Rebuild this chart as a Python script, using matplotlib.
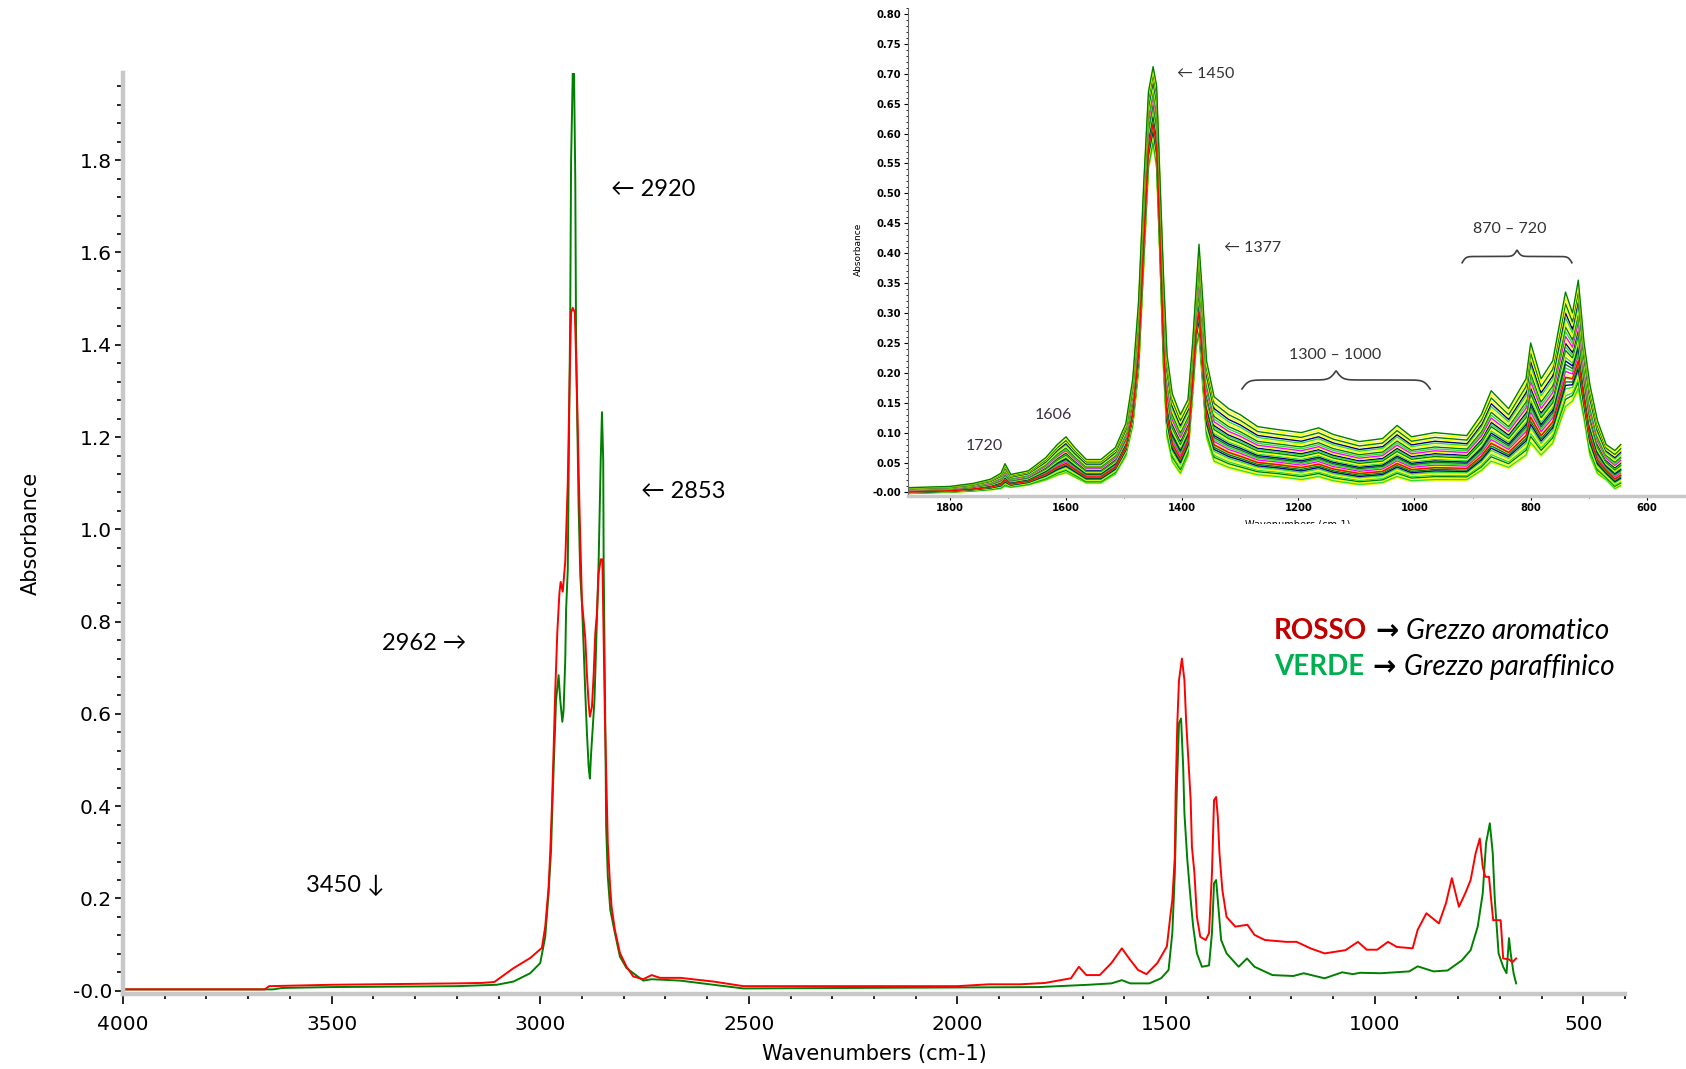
import matplotlib
matplotlib.use('Agg')
import matplotlib.pyplot as plt
import numpy as np
from matplotlib.ticker import MultipleLocator, FixedLocator, FuncFormatter
from matplotlib.transforms import Bbox

plt.rcParams['font.family'] = ['DejaVu Sans']

# --- main FTIR spectra (wavenumber cm-1, absorbance) ---
rosso_wn = [4000, 3660, 3650, 3500, 3200, 3140, 3110, 3064, 3024, 2996, 2988, 2980,
            2976, 2972, 2968, 2964, 2959, 2954, 2951, 2946, 2940, 2934, 2930, 2926,
            2922, 2917, 2912, 2906, 2900, 2892, 2888, 2884, 2881, 2876, 2872, 2868,
            2864, 2860, 2855, 2851, 2848, 2845, 2841, 2838, 2833, 2829, 2821, 2809,
            2793, 2777, 2753, 2733, 2713, 2664, 2585, 2513, 2000, 1925, 1850, 1790,
            1728, 1709, 1691, 1659, 1631, 1606, 1586, 1567, 1547, 1521, 1498, 1490,
            1485, 1479, 1477, 1473, 1469, 1462, 1456, 1452, 1446, 1441, 1438, 1432,
            1426, 1418, 1405, 1397, 1390, 1385, 1380, 1376, 1372, 1365, 1355, 1334,
            1305, 1288, 1263, 1212, 1187, 1154, 1120, 1070, 1040, 1019, 994, 968,
            947, 909, 897, 876, 846, 829, 815, 798, 783, 770, 758, 748, 741, 735,
            726, 716, 698, 692, 678, 670, 661]
rosso_abs = [0.003, 0.003, 0.010, 0.013, 0.016, 0.017, 0.019, 0.049, 0.071, 0.093, 0.139, 0.223,
             0.300, 0.400, 0.520, 0.650, 0.778, 0.862, 0.886, 0.865, 0.930, 1.100, 1.300, 1.470,
             1.480, 1.470, 1.300, 1.050, 0.843, 0.764, 0.684, 0.623, 0.594, 0.616, 0.684, 0.775,
             0.818, 0.904, 0.935, 0.935, 0.760, 0.594, 0.442, 0.320, 0.234, 0.182, 0.132, 0.082,
             0.052, 0.031, 0.025, 0.034, 0.028, 0.028, 0.020, 0.010, 0.010, 0.014, 0.014, 0.017,
             0.027, 0.052, 0.034, 0.034, 0.060, 0.092, 0.067, 0.045, 0.036, 0.060, 0.096, 0.160,
             0.197, 0.290, 0.428, 0.580, 0.673, 0.720, 0.673, 0.587, 0.493, 0.413, 0.312, 0.255,
             0.160, 0.117, 0.110, 0.125, 0.255, 0.413, 0.420, 0.377, 0.298, 0.218, 0.160, 0.139,
             0.143, 0.121, 0.110, 0.106, 0.106, 0.092, 0.081, 0.088, 0.106, 0.089, 0.089, 0.106,
             0.095, 0.092, 0.132, 0.168, 0.146, 0.190, 0.244, 0.182, 0.211, 0.240, 0.298, 0.330, 0.269, 0.247,
             0.247, 0.153, 0.153, 0.070, 0.068, 0.062, 0.070]

verde_wn = [4000, 3640, 3620, 3500, 3200, 3104, 3064, 3024, 3000, 2988, 2980, 2974,
            2971, 2966, 2962, 2956, 2952, 2947, 2944, 2940, 2938, 2934, 2931, 2928,
            2926, 2922, 2919, 2916, 2914, 2908, 2904, 2900, 2896, 2892, 2888, 2884,
            2881, 2878, 2874, 2870, 2867, 2864, 2860, 2855, 2852, 2849, 2848, 2844,
            2842, 2838, 2832, 2821, 2809, 2793, 2753, 2733, 2664, 2585, 2513, 1806,
            1686, 1631, 1606, 1586, 1540, 1512, 1494, 1485, 1479, 1474, 1469, 1464,
            1459, 1456, 1449, 1441, 1435, 1426, 1414, 1397, 1390, 1385, 1380, 1376,
            1368, 1355, 1326, 1306, 1288, 1245, 1195, 1170, 1120, 1078, 1052, 1035,
            985, 917, 897, 859, 825, 791, 770, 753, 741, 733, 724, 717, 712, 703,
            692, 684, 678, 674, 667, 661]
verde_abs = [0.003, 0.003, 0.006, 0.008, 0.010, 0.013, 0.020, 0.038, 0.060, 0.117, 0.212, 0.305,
             0.399, 0.529, 0.630, 0.684, 0.630, 0.583, 0.608, 0.717, 0.825, 0.912, 1.200, 1.480,
             1.800, 1.990, 1.990, 1.760, 1.400, 1.050, 0.900, 0.840, 0.746, 0.645, 0.558, 0.486,
             0.460, 0.515, 0.572, 0.630, 0.717, 0.810, 0.930, 1.150, 1.254, 1.150, 0.930, 0.572,
             0.356, 0.247, 0.175, 0.125, 0.074, 0.049, 0.022, 0.025, 0.022, 0.013, 0.005, 0.008,
             0.013, 0.016, 0.023, 0.016, 0.016, 0.027, 0.045, 0.125, 0.255, 0.442, 0.580, 0.590,
             0.486, 0.385, 0.283, 0.197, 0.139, 0.081, 0.052, 0.055, 0.125, 0.233, 0.240, 0.197,
             0.110, 0.081, 0.052, 0.070, 0.052, 0.034, 0.032, 0.038, 0.027, 0.040, 0.036, 0.039,
             0.038, 0.042, 0.053, 0.042, 0.044, 0.066, 0.088, 0.139, 0.211, 0.320, 0.363, 0.298, 0.197, 0.081,
             0.052, 0.038, 0.114, 0.081, 0.038, 0.016]

# --- inset: family of crude-oil spectra, 1870-645 cm-1 ---
inset_wn = [1870, 1800, 1760, 1730, 1712, 1705, 1695, 1665, 1635, 1615, 1600, 1585,
            1565, 1540, 1515, 1497, 1485, 1475, 1466, 1458, 1450, 1444, 1438, 1432,
            1426, 1417, 1403, 1390, 1382, 1376, 1371, 1365, 1358, 1345, 1320, 1300,
            1270, 1235, 1195, 1165, 1140, 1095, 1055, 1030, 1005, 965, 910, 885,
            868, 838, 808, 800, 782, 762, 740, 728, 718, 708, 698, 685, 670, 655, 645]
inset_hi = [0.008, 0.010, 0.015, 0.022, 0.032, 0.048, 0.030, 0.036, 0.058, 0.080, 0.093, 0.075,
            0.055, 0.055, 0.075, 0.115, 0.190, 0.320, 0.520, 0.670, 0.712, 0.680, 0.520, 0.360,
            0.230, 0.165, 0.130, 0.155, 0.250, 0.340, 0.415, 0.330, 0.220, 0.160, 0.140, 0.130,
            0.110, 0.105, 0.100, 0.108, 0.097, 0.085, 0.090, 0.112, 0.093, 0.100, 0.095, 0.130,
            0.170, 0.140, 0.190, 0.250, 0.190, 0.220, 0.335, 0.300, 0.355, 0.250, 0.180, 0.120,
            0.080, 0.070, 0.080]
inset_lo = [-0.002, 0.000, 0.002, 0.004, 0.006, 0.010, 0.008, 0.012, 0.020, 0.028, 0.032, 0.025,
            0.015, 0.015, 0.030, 0.060, 0.110, 0.200, 0.380, 0.540, 0.580, 0.540, 0.380, 0.200,
            0.090, 0.050, 0.030, 0.060, 0.160, 0.240, 0.260, 0.180, 0.090, 0.050, 0.040, 0.035,
            0.028, 0.025, 0.020, 0.025, 0.018, 0.012, 0.015, 0.025, 0.018, 0.020, 0.020, 0.035,
            0.050, 0.040, 0.060, 0.080, 0.060, 0.080, 0.140, 0.150, 0.170, 0.120, 0.060, 0.030,
            0.020, 0.005, 0.010]
# position of each sample between the lowest (0) and highest (1) spectrum
inset_weight = [0.00, 0.05, 0.02, 0.08, 0.11, 0.14, 0.17, 0.20, 0.23, 0.26, 0.29, 0.32,
                0.35, 0.38, 0.41, 0.44, 0.47, 0.50, 0.53, 0.56, 0.59, 0.62, 0.66, 0.70,
                0.74, 0.78, 0.82, 0.86, 0.90, 0.95, 1.00, 0.27]
inset_color = ['#ffff00', '#ffff00', '#33dd33', '#008000', '#33dd33', '#ffff00', '#33dd33', '#000080',
               '#008000', '#33dd33', '#ffff00', '#ff00ff', '#33dd33', '#008000', '#000080', '#33dd33',
               '#ffff00', '#008000', '#33dd33', '#000080', '#ffff00', '#ff00ff', '#33dd33', '#008000',
               '#ffff00', '#33dd33', '#000080', '#ffff00', '#008000', '#ffff00', '#008000', '#ff0000']

W, H = 1686, 1069
fig = plt.figure(figsize=(W / 100, H / 100), dpi=100)


def px_rect(x0, y0, x1, y1):
    # pixel box (origin top-left) -> figure fraction rect
    return [x0 / W, 1 - y1 / H, (x1 - x0) / W, (y1 - y0) / H]


def fx(x):
    return x / W


def fy(y):
    return 1 - y / H


# ---------------- main spectrum ----------------
ax = fig.add_axes(px_rect(123, 73, 1625, 994))
ax.plot(verde_wn, verde_abs, color='#008000', lw=1.4)
ax.plot(rosso_wn, rosso_abs, color='#ff0000', lw=1.4)
ax.set_xlim(4000, 400)
ax.set_ylim(-0.007, 1.989)

for side in ('top', 'right'):
    ax.spines[side].set_visible(False)
for side in ('left', 'bottom'):
    ax.spines[side].set_color('#c8c8c8')
    ax.spines[side].set_linewidth(3.2)

ax.xaxis.set_major_locator(MultipleLocator(500))
ax.xaxis.set_minor_locator(MultipleLocator(100))
ax.yaxis.set_major_locator(FixedLocator([0, 0.2, 0.4, 0.6, 0.8, 1.0, 1.2, 1.4, 1.6, 1.8]))
ax.yaxis.set_minor_locator(MultipleLocator(0.04))
ax.yaxis.set_major_formatter(FuncFormatter(lambda v, p: '-0.0' if abs(v) < 1e-9 else f'{v:.1f}'))
ax.tick_params(axis='both', which='major', colors='black', labelsize=14.5, width=1.2)
ax.tick_params(axis='y', which='major', length=6, pad=2)
ax.tick_params(axis='y', which='minor', length=4, width=1.2)
ax.tick_params(axis='x', which='major', length=7, pad=8)
ax.tick_params(axis='x', which='minor', length=3.5, width=1.2)
ax.set_xlabel('Wavenumbers (cm-1)', fontsize=15, labelpad=7)
ax.set_ylabel('Absorbance', fontsize=15, labelpad=23)

ann_font = ['Lato', 'DejaVu Sans']
fig.text(fx(611), fy(190), '\u2190 2920', family=ann_font, fontsize=17, va='center')
fig.text(fx(641), fy(491), '\u2190 2853', family=ann_font, fontsize=17, va='center')
fig.text(fx(382), fy(643), '2962 \u2192', family=ann_font, fontsize=17, va='center')
fig.text(fx(306), fy(885), '3450 \u2193', family=ann_font, fontsize=17, va='center')

# legend lines built from pieces of differently styled text
renderer = fig.canvas.get_renderer()


def styled_line(x, y, pieces):
    for txt, kw in pieces:
        t = fig.text(fx(x), fy(y), txt, fontsize=20, va='baseline', **kw)
        bb = t.get_window_extent(renderer)
        x += bb.width + 8


styled_line(1274, 639, [('ROSSO', dict(color='#c00000', fontweight='bold', family=ann_font)),
                        ('\u2192', dict(color='black', fontweight='bold', family='DejaVu Sans')),
                        ('Grezzo aromatico', dict(color='black', style='italic', family=ann_font))])
styled_line(1274, 675, [('VERDE', dict(color='#00b050', fontweight='bold', family=ann_font)),
                        ('\u2192', dict(color='black', fontweight='bold', family='DejaVu Sans')),
                        ('Grezzo paraffinico', dict(color='black', style='italic', family=ann_font))])

# ---------------- inset ----------------
axi = fig.add_axes(px_rect(908, 8, 1684, 496))
hi = np.array(inset_hi)
lo = np.array(inset_lo)
for w, c in zip(inset_weight, inset_color):
    axi.plot(inset_wn, lo + w * (hi - lo), color=c, lw=1.0)
axi.set_xlim(1872, 536)
axi.set_ylim(-0.006, 0.81)
for side in ('top', 'right'):
    axi.spines[side].set_visible(False)
axi.spines['left'].set_color('#666666')
axi.spines['left'].set_linewidth(0.8)
axi.spines['bottom'].set_color('#c8c8c8')
axi.spines['bottom'].set_linewidth(2.5)
axi.xaxis.set_major_locator(MultipleLocator(200))
axi.xaxis.set_minor_locator(MultipleLocator(100))
axi.yaxis.set_major_locator(MultipleLocator(0.05))
axi.yaxis.set_minor_locator(MultipleLocator(0.01))
axi.yaxis.set_major_formatter(FuncFormatter(lambda v, p: '-0.00' if abs(v) < 1e-9 else f'{v:.2f}'))
axi.tick_params(axis='both', which='major', labelsize=7.2, length=3, width=0.8, pad=2)
axi.tick_params(axis='both', which='minor', length=1.5, width=0.6)
for lbl in axi.get_xticklabels() + axi.get_yticklabels():
    lbl.set_fontweight('bold')

fig.text(fx(858), fy(249), 'Absorbance', fontsize=6.5, rotation=90, ha='center', va='center')
xl = fig.text(fx(1298), fy(524), 'Wavenumbers (cm-1)', fontsize=7, ha='center', va='center')
xl.set_clip_box(Bbox.from_extents(0, H - 524, W, H))
xl.set_clip_on(True)

inset_font = ['Lato', 'DejaVu Sans']
fig.text(fx(1177), fy(74), '\u2190 1450', family=inset_font, fontsize=11.5, va='center', color='#333333')
fig.text(fx(1224), fy(248), '\u2190 1377', family=inset_font, fontsize=11.5, va='center', color='#333333')
fig.text(fx(1510), fy(229), '870 \u2013 720', family=inset_font, fontsize=11.5, ha='center', va='center', color='#333333')
fig.text(fx(1335), fy(355), '1300 \u2013 1000', family=inset_font, fontsize=11.5, ha='center', va='center', color='#333333')
fig.text(fx(1053), fy(415), '1606', family=inset_font, fontsize=11.5, ha='center', va='center', color='#3b2f45')
fig.text(fx(984), fy(446), '1720', family=inset_font, fontsize=11.5, ha='center', va='center', color='#3b2f45')


def curly_brace(axes, x0, x1, y_end, height, k=60):
    # horizontal brace with ends hooking down and the tip pointing up
    u = np.linspace(0, 0.5, 200)
    half = 1 / (1 + np.exp(-k * u)) + 1 / (1 + np.exp(-k * (u - 0.5)))
    shape = np.concatenate([half, half[::-1]]) - 0.5
    xs = np.linspace(x0, x1, shape.size)
    axes.plot(xs, y_end + height * shape, color='#404040', lw=1.2, clip_on=False)


curly_brace(axi, 918, 729, 0.384, 0.021)
curly_brace(axi, 1297, 973, 0.173, 0.030)

fig.savefig('out.png', dpi=100)
